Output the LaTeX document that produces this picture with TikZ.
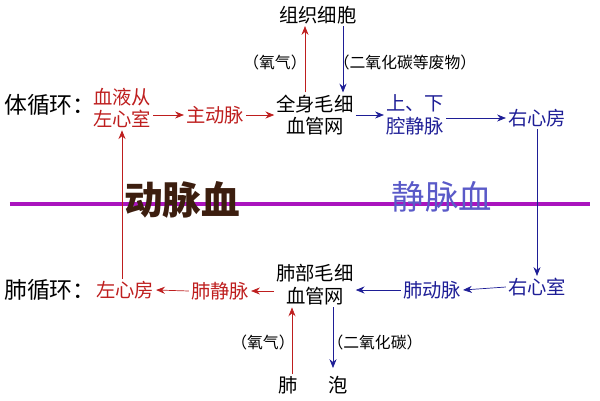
\documentclass[tikz,border=0pt]{standalone}
\usepackage{fontspec}
\setmainfont{Noto Sans CJK SC}
\usetikzlibrary{arrows.meta}
\definecolor{rd}{RGB}{190,30,30}
\definecolor{bl}{RGB}{30,30,150}
\definecolor{pu}{RGB}{170,20,190}
\definecolor{br}{RGB}{60,30,15}
\definecolor{lb}{RGB}{90,90,200}
\tikzset{t/.style={font=\fontsize{11}{13}\selectfont,align=center,inner sep=1pt},
 ra/.style={-{Stealth[length=5pt,width=4pt]},rd,thin},
 ba/.style={-{Stealth[length=5pt,width=4pt]},bl,thin}}
\begin{document}
\begin{tikzpicture}[x=0.02cm,y=-0.02cm]
\useasboundingbox (0,0) rectangle (600,400);
\draw[pu,line width=2.5pt] (10,204) -- (590,204);
\node[font=\fontsize{22}{24}\selectfont\bfseries,text=br] (ad) at (182,200) {动脉血};
\node[font=\fontsize{19}{21}\selectfont,text=lb] (vd) at (442,197) {静脉血};
\node[t] (zz) at (318,15) {组织细胞};
\node[t,font=\fontsize{9}{11}\selectfont] (o1) at (275,62) {（氧气）};
\node[t,font=\fontsize{9}{11}\selectfont] (c1) at (405,62) {（二氧化碳等废物）};
\node[t,font=\fontsize{13}{15}\selectfont] (tx) at (50,105) {体循环：};
\node[t,text=rd] (xy) at (122,108) {血液从\\左心室};
\node[t,text=rd] (zd) at (215,115) {主动脉};
\node[t] (qs) at (315,115) {全身毛细\\血管网};
\node[t,text=bl] (qj) at (415,115) {上、下\\腔静脉};
\node[t,text=bl] (yf) at (537,118) {右心房};
\node[t,font=\fontsize{13}{15}\selectfont] (fx) at (50,290) {肺循环：};
\node[t,text=rd] (zf) at (125,290) {左心房};
\node[t,text=rd] (fj) at (220,291) {肺静脉};
\node[t] (fb) at (315,285) {肺部毛细\\血管网};
\node[t,text=bl] (fd) at (432,290) {肺动脉};
\node[t,text=bl] (ys) at (537,287) {右心室};
\node[t,font=\fontsize{9}{11}\selectfont] (o2) at (263,342) {（氧气）};
\node[t,font=\fontsize{9}{11}\selectfont] (c2) at (375,342) {（二氧化碳）};
\node[t] (fei) at (288,385) {肺};
\node[t] (pao) at (338,385) {泡};
\coordinate (a1) at (305,0); \coordinate (a2) at (343,0);
\coordinate (a3) at (292,0); \coordinate (a4) at (333,368);
\draw[ra] (xy.east|-zd) -- (zd.west);
\draw[ra] (zd.east) -- (qs.west|-zd);
\draw[ba] (qs.east|-qj) -- (qj.west|-qs);
\draw[ba] (qj.east|-yf) -- (yf.west);
\draw[ba] (yf.south) -- (ys.north);
\draw[ba] (ys.west) -- (fd.east);
\draw[ba] (fd.west) -- (fb.east|-fd);
\draw[ra] (fb.west|-fj) -- (fj.east);
\draw[ra] (fj.west) -- (zf.east);
\draw[ra] (zf.north-|xy) -- (xy.south);
\draw[ra] (a1|-qs.north) -- (a1|-zz.south);
\draw[ba] (a2|-zz.south) -- (a2|-qs.north);
\draw[ra] (a3|-fei.north) -- (a3|-fb.south);
\draw[ba] (a4|-fb.south) -- (a4);
\end{tikzpicture}
\end{document}
